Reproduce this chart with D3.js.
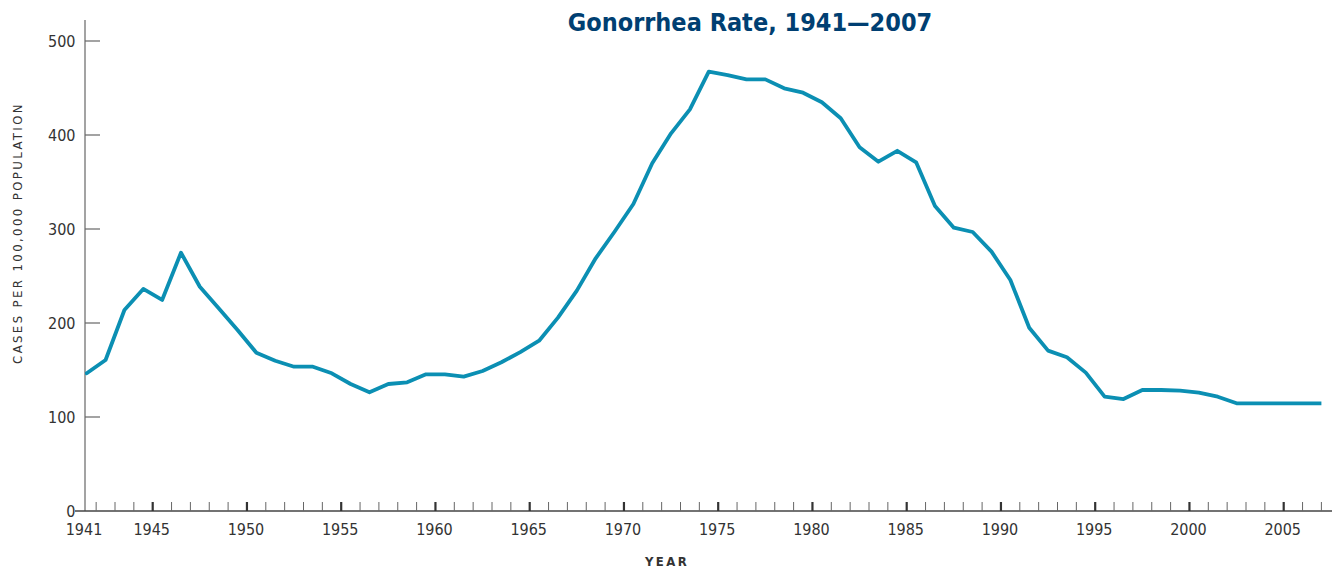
<!DOCTYPE html>
<html>
<head>
<meta charset="utf-8">
<script src="https://cdn.jsdelivr.net/npm/d3@7"></script>
<style>
  body { margin: 0; background: #fff; }
  svg { display: block; }
</style>
</head>
<body>
<div id="chart"></div>
<script>
const years = d3.range(1941, 2008);
const rates = [
  146.5, 160.6, 213.8, 236.2, 224.5, 274.8, 238.6, 215.6, 192.6, 168.4,
  159.9, 153.5, 153.5, 146.5, 135.1, 126.3, 135.1, 136.9, 145.4, 145.4,
  142.9, 148.9, 158.2, 169.0, 181.2, 205.7, 234.4, 268.8, 297.1, 326.6,
  369.9, 401.8, 427.3, 467.4, 463.8, 459.2, 459.2, 449.7, 445.0, 434.8,
  417.8, 386.9, 371.6, 383.2, 370.9, 324.5, 301.4, 296.8, 275.9, 245.7,
  195.0, 170.6, 163.5, 147.2, 121.6, 119.1, 128.7, 128.7, 128.0, 125.9,
  121.6, 114.6, 114.6, 114.6, 114.6, 114.6, 114.6,
];
const yTicks = [0, 100, 200, 300, 400, 500];
const xMajorTicks = d3.range(1945, 2006, 5);
const xMinorTicks = d3.range(1942, 2008);

const title = 'Gonorrhea Rate, 1941—2007';
const yTitle = 'CASES PER 100,000 POPULATION';
const xTitle = 'YEAR';

const width = 1335,
  height = 569;
const axisX = 85,
  axisY = 511;
const lineColor = '#0b8fb3';
const axisColor = '#666';
const textColor = '#333';
const smallFont = '"DejaVu Sans Condensed", "DejaVu Sans", sans-serif';

const data = years.map((year, i) => ({ year, rate: rates[i] }));

const svg = d3
  .select('#chart')
  .append('svg')
  .attr('width', width)
  .attr('height', height);

// year scale: ticks mark the start of a year, points sit mid-year
const x = d3
  .scaleLinear()
  .domain([1945, 2005])
  .range([152.7, 1283.7]);
const y = d3.scaleLinear().domain([0, 500]).range([axisY, 41]);

// Title
svg
  .append('text')
  .attr('x', 750)
  .attr('y', 31)
  .attr('text-anchor', 'middle')
  .style('font-family', '"DejaVu Sans Condensed", "DejaVu Sans", sans-serif')
  .style('font-weight', 'bold')
  .style('font-size', '25px')
  .style('fill', '#003f72')
  .text(title);

// Y axis line + ticks
svg
  .append('line')
  .attr('x1', axisX)
  .attr('x2', axisX)
  .attr('y1', 20)
  .attr('y2', axisY)
  .attr('stroke', axisColor)
  .attr('stroke-width', 1.2);

svg
  .selectAll('.ytick')
  .data(yTicks.filter((d) => d > 0))
  .enter()
  .append('line')
  .attr('class', 'ytick')
  .attr('x1', axisX)
  .attr('x2', axisX + 15)
  .attr('y1', (d) => y(d))
  .attr('y2', (d) => y(d))
  .attr('stroke', axisColor)
  .attr('stroke-width', 1.2);

svg
  .selectAll('.ylabel')
  .data(yTicks)
  .enter()
  .append('text')
  .attr('class', 'ylabel')
  .attr('x', 75.5)
  .attr('y', (d) => y(d))
  .attr('dy', '0.36em')
  .attr('text-anchor', 'end')
  .style('font-family', smallFont)
  .style('font-size', '16px')
  .style('fill', textColor)
  .text((d) => d);

// X axis line (starts left of the y axis, as the "0" tick)
svg
  .append('line')
  .attr('x1', 75)
  .attr('x2', 1332)
  .attr('y1', axisY)
  .attr('y2', axisY)
  .attr('stroke', '#444')
  .attr('stroke-width', 1.4);

svg
  .selectAll('.xtick')
  .data(xMinorTicks)
  .enter()
  .append('line')
  .attr('class', 'xtick')
  .attr('x1', (d) => x(d))
  .attr('x2', (d) => x(d))
  .attr('y1', axisY - 9)
  .attr('y2', axisY)
  .attr('stroke', (d) => (d % 5 === 0 ? '#333' : axisColor))
  .attr('stroke-width', (d) => (d % 5 === 0 ? 2.2 : 1));

svg
  .selectAll('.xlabel')
  .data(xMajorTicks)
  .enter()
  .append('text')
  .attr('class', 'xlabel')
  .attr('x', (d) => x(d) - 1)
  .attr('y', 535)
  .attr('text-anchor', 'middle')
  .style('font-family', smallFont)
  .style('font-size', '16px')
  .style('fill', textColor)
  .text((d) => d);

// first year label sits on the origin
svg
  .append('text')
  .attr('x', axisX - 1)
  .attr('y', 535)
  .attr('text-anchor', 'middle')
  .style('font-family', smallFont)
  .style('font-size', '16px')
  .style('fill', textColor)
  .text(years[0]);

// Axis titles
svg
  .append('text')
  .attr('transform', `translate(22,${233}) rotate(-90)`)
  .attr('text-anchor', 'middle')
  .style('font-family', smallFont)
  .style('font-size', '13px')
  .style('letter-spacing', '2.4px')
  .style('fill', textColor)
  .text(yTitle);

svg
  .append('text')
  .attr('x', 667)
  .attr('y', 566)
  .attr('text-anchor', 'middle')
  .style('font-family', smallFont)
  .style('font-size', '13px')
  .style('font-weight', 'bold')
  .style('letter-spacing', '2.4px')
  .style('fill', textColor)
  .text(xTitle);

// Clip the line at the last tick
svg
  .append('defs')
  .append('clipPath')
  .attr('id', 'plot-clip')
  .append('rect')
  .attr('x', axisX)
  .attr('y', 0)
  .attr('width', x(2007) - axisX)
  .attr('height', axisY);

const line = d3
  .line()
  .x((d) => x(d.year + 0.5))
  .y((d) => y(d.rate));

svg
  .append('path')
  .datum(data)
  .attr('clip-path', 'url(#plot-clip)')
  .attr('fill', 'none')
  .attr('stroke', lineColor)
  .attr('stroke-width', 3.8)
  .attr('stroke-linejoin', 'round')
  .attr('stroke-linecap', 'round')
  .attr('d', line);
</script>
</body>
</html>
